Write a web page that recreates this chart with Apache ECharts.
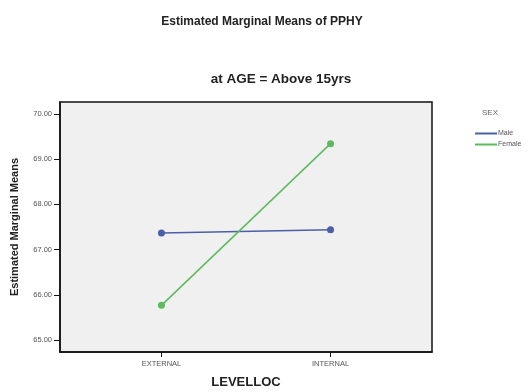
<!DOCTYPE html>
<html>
<head>
<meta charset="utf-8">
<script src="https://cdn.jsdelivr.net/npm/echarts@6/dist/echarts.min.js"></script>
<style>
html,body{margin:0;padding:0;background:#fff;}
#c{width:529px;height:392px;}
</style>
</head>
<body>
<div id="c"></div>
<script>
const categories = ['EXTERNAL', 'INTERNAL'];
const maleValues = [67.37, 67.44];
const femaleValues = [65.77, 69.34];
const yTickValues = [65, 66, 67, 68, 69, 70];
const seriesNames = ['Male', 'Female'];

const FONT = '"Liberation Sans", Arial, sans-serif';
const chart = echarts.init(document.getElementById('c'), null, {renderer: 'canvas'});

function toPoints(vals) { return categories.map((c, i) => [i, vals[i]]); }

chart.setOption({
  animation: false,
  backgroundColor: '#ffffff',
  title: [
    {text: 'Estimated Marginal Means of PPHY', left: 257, top: 11, textAlign: 'center',
     textStyle: {fontFamily: FONT, fontSize: 12, fontWeight: 'bold', color: '#222'}},
    {text: 'at AGE = Above 15yrs', left: 276, top: 67, textAlign: 'center',
     textStyle: {fontFamily: FONT, fontSize: 13.5, fontWeight: 'bold', color: '#222'}}
  ],
  graphic: [
    {type: 'text', left: 482, top: 109, style: {text: 'SEX', font: '8px ' + FONT, fill: '#666'}}
  ],
  legend: {
    orient: 'vertical', left: 470, top: 125, itemWidth: 22, itemHeight: 2, itemGap: 4,
    icon: 'rect', data: seriesNames,
    textStyle: {fontFamily: FONT, fontSize: 7, color: '#555', padding: [0,0,0,-4]}
  },
  grid: {left: 60, right: 97, top: 102, bottom: 40, show: true, outerBoundsMode: 'none',
    backgroundColor: '#F0F0F0', borderColor: '#111', borderWidth: 1.5},
  xAxis: {
    type: 'value', min: -0.6, max: 1.6,
    name: 'LEVELLOC', nameLocation: 'middle', nameGap: 24,
    nameTextStyle: {fontFamily: FONT, fontSize: 13, fontWeight: 'bold', color: '#222'},
    axisLine: {show: true, onZero: false, lineStyle: {color: '#111', width: 1.5}},
    axisTick: {show: true, length: 5, customValues: [0, 1], lineStyle: {color: '#111'}},
    axisLabel: {customValues: [0, 1], margin: 8, fontFamily: FONT, fontSize: 7.5, color: '#555',
      formatter: v => categories[Math.round(v)]},
    splitLine: {show: false}
  },
  yAxis: {
    type: 'value', min: 64.74, max: 70.26,
    name: 'Estimated Marginal Means', nameLocation: 'middle', nameGap: 40,
    nameTextStyle: {fontFamily: FONT, fontSize: 11, fontWeight: 'bold', color: '#222'},
    axisLine: {show: true, onZero: false, lineStyle: {color: '#111', width: 1.5}},
    axisTick: {show: true, length: 6, customValues: yTickValues, lineStyle: {color: '#111'}},
    axisLabel: {customValues: yTickValues, margin: 8, fontFamily: FONT, fontSize: 7.5, color: '#555',
      formatter: v => v.toFixed(2)},
    splitLine: {show: false}
  },
  series: [
    {name: seriesNames[0], type: 'line', data: toPoints(maleValues), symbol: 'circle', symbolSize: 7,
     lineStyle: {color: '#4A5FA8', width: 1.5}, itemStyle: {color: '#4A5FA8'}},
    {name: seriesNames[1], type: 'line', data: toPoints(femaleValues), symbol: 'circle', symbolSize: 7,
     lineStyle: {color: '#5DBA5D', width: 1.5}, itemStyle: {color: '#5DBA5D'}}
  ]
});
</script>
</body>
</html>
